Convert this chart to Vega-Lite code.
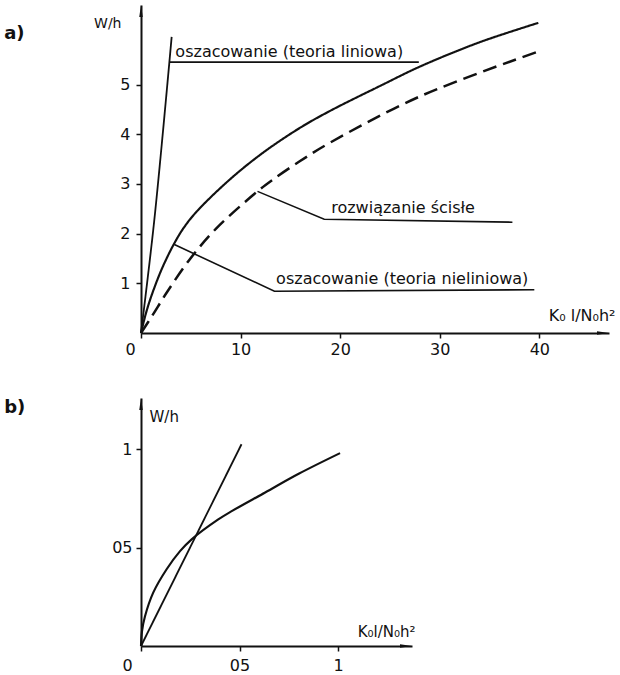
{
  "$schema": "https://vega.github.io/schema/vega-lite/v6.json",
  "background": "white",
  "padding": {"left": 4, "top": 5, "right": 0, "bottom": 0},
  "bounds": "flush",
  "spacing": 65,
  "datasets": {
    "a_curves": [
      {"series": "liniowa", "x": 0, "y": 0},
      {"series": "liniowa", "x": 1.34, "y": 2.28},
      {"series": "liniowa", "x": 3.08, "y": 5.96},
      {"series": "nieliniowa", "x": 0, "y": 0},
      {"series": "nieliniowa", "x": 0.5, "y": 0.4},
      {"series": "nieliniowa", "x": 1.0, "y": 0.72},
      {"series": "nieliniowa", "x": 1.84, "y": 1.17},
      {"series": "nieliniowa", "x": 2.5, "y": 1.47},
      {"series": "nieliniowa", "x": 3.28, "y": 1.78},
      {"series": "nieliniowa", "x": 4.2, "y": 2.09},
      {"series": "nieliniowa", "x": 5.53, "y": 2.43},
      {"series": "nieliniowa", "x": 8.87, "y": 3.08},
      {"series": "nieliniowa", "x": 12.2, "y": 3.62},
      {"series": "nieliniowa", "x": 15.9, "y": 4.12},
      {"series": "nieliniowa", "x": 18.9, "y": 4.46},
      {"series": "nieliniowa", "x": 24.3, "y": 5.0},
      {"series": "nieliniowa", "x": 28.0, "y": 5.36},
      {"series": "nieliniowa", "x": 34.0, "y": 5.85},
      {"series": "nieliniowa", "x": 39.9, "y": 6.24},
      {"series": "scisle", "x": 0, "y": 0},
      {"series": "scisle", "x": 1.1, "y": 0.34},
      {"series": "scisle", "x": 2.67, "y": 0.84},
      {"series": "scisle", "x": 4.85, "y": 1.47},
      {"series": "scisle", "x": 7.54, "y": 2.1},
      {"series": "scisle", "x": 11.7, "y": 2.85},
      {"series": "scisle", "x": 13.2, "y": 3.08},
      {"series": "scisle", "x": 15.9, "y": 3.45},
      {"series": "scisle", "x": 18.9, "y": 3.82},
      {"series": "scisle", "x": 28.0, "y": 4.76},
      {"series": "scisle", "x": 39.7, "y": 5.65}
    ],
    "a_leaders": [
      {"id": "l1", "x": 2.84, "y": 5.45},
      {"id": "l1", "x": 27.9, "y": 5.45},
      {"id": "l2", "x": 11.7, "y": 2.85},
      {"id": "l2", "x": 18.4, "y": 2.29},
      {"id": "l2", "x": 37.3, "y": 2.23},
      {"id": "l3", "x": 3.35, "y": 1.78},
      {"id": "l3", "x": 13.4, "y": 0.84},
      {"id": "l3", "x": 39.5, "y": 0.87}
    ],
    "a_text": [
      {"label": "oszacowanie (teoria liniowa)", "x": 3.45, "y": 5.56},
      {"label": "rozwiązanie ścisłe", "x": 19.1, "y": 2.41},
      {"label": "oszacowanie (teoria nieliniowa)", "x": 13.57, "y": 0.99}
    ],
    "a_tag": [{"label": "a)", "x": -13.74, "y": 6.02}],
    "a_arrows": [
      {"dir": "right", "x": 47, "y": 0},
      {"dir": "up", "x": 0, "y": 6.6}
    ],
    "b_curves": [
      {"series": "liniowa", "x": 0, "y": 0},
      {"series": "liniowa", "x": 0.51, "y": 1.025},
      {"series": "nieliniowa", "x": 0, "y": 0},
      {"series": "nieliniowa", "x": 0.005, "y": 0.075},
      {"series": "nieliniowa", "x": 0.02, "y": 0.15},
      {"series": "nieliniowa", "x": 0.062, "y": 0.271},
      {"series": "nieliniowa", "x": 0.13, "y": 0.39},
      {"series": "nieliniowa", "x": 0.198, "y": 0.482},
      {"series": "nieliniowa", "x": 0.257, "y": 0.542},
      {"series": "nieliniowa", "x": 0.392, "y": 0.643},
      {"series": "nieliniowa", "x": 0.46, "y": 0.685},
      {"series": "nieliniowa", "x": 0.63, "y": 0.78},
      {"series": "nieliniowa", "x": 0.8, "y": 0.875},
      {"series": "nieliniowa", "x": 1.01, "y": 0.98}
    ],
    "b_tag": [{"label": "b)", "x": -0.694, "y": 1.207}],
    "b_arrows": [
      {"dir": "right", "x": 1.375, "y": 0},
      {"dir": "up", "x": 0, "y": 1.26}
    ]
  },
  "vconcat": [
    {
      "width": 468,
      "height": 328,
      "encoding": {
        "x": {
          "field": "x", "type": "quantitative",
          "scale": {"domain": [0, 47], "nice": false, "zero": false},
          "axis": {
            "values": [0, 10, 20, 30, 40],
            "title": "K₀ l/N₀h²",
            "titleX": 474, "titleY": -18, "titleAlign": "right", "titleBaseline": "middle",
            "titleFontSize": 16,
            "tickSize": 5, "labelPadding": 3,
            "labelOffset": {"condition": {"test": "datum.value === 0", "value": -11}, "value": 0}
          }
        },
        "y": {
          "field": "y", "type": "quantitative",
          "scale": {"domain": [0, 6.6], "nice": false, "zero": false},
          "axis": {
            "values": [1, 2, 3, 4, 5],
            "title": "W/h",
            "titleAngle": 0, "titleX": -20, "titleY": 18, "titleAlign": "right", "titleBaseline": "middle",
            "titleFontSize": 14,
            "tickSize": 5, "labelPadding": 6
          }
        }
      },
      "layer": [
        {
          "data": {"name": "a_curves"},
          "mark": {"type": "line", "interpolate": "catmull-rom", "color": "#111", "clip": false},
          "encoding": {
            "detail": {"field": "series"},
            "strokeDash": {"field": "series", "type": "nominal", "legend": null,
              "scale": {"domain": ["liniowa", "nieliniowa", "scisle"], "range": [[1, 0], [1, 0], [14, 7]]}},
            "strokeWidth": {"field": "series", "type": "nominal", "legend": null,
              "scale": {"domain": ["liniowa", "nieliniowa", "scisle"], "range": [1.8, 2.5, 2.1]}}
          }
        },
        {
          "data": {"name": "a_leaders"},
          "mark": {"type": "line", "color": "#111", "strokeWidth": 1.6},
          "encoding": {"detail": {"field": "id"}}
        },
        {
          "data": {"name": "a_text"},
          "mark": {"type": "text", "align": "left", "baseline": "alphabetic", "font": "DejaVu Sans", "fontSize": 16, "color": "#111"},
          "encoding": {"text": {"field": "label"}}
        },
        {
          "data": {"name": "a_tag"},
          "mark": {"type": "text", "align": "left", "baseline": "middle", "font": "DejaVu Sans", "fontSize": 18, "fontWeight": "bold", "color": "#111"},
          "encoding": {"text": {"field": "label"}}
        },
        {
          "data": {"name": "a_arrows"},
          "mark": {"type": "point", "filled": true, "color": "#111", "opacity": 1, "size": 100, "clip": false},
          "encoding": {
            "shape": {"field": "dir", "type": "nominal", "legend": null,
              "scale": {"domain": ["right", "up"], "range": ["M0,0L-2.4,-0.35L-2.4,0.35Z", "M0,0L-0.35,2.4L0.35,2.4Z"]}}
          }
        }
      ]
    },
    {
      "width": 271,
      "height": 248,
      "encoding": {
        "x": {
          "field": "x", "type": "quantitative",
          "scale": {"domain": [0, 1.375], "nice": false, "zero": false},
          "axis": {
            "values": [0, 0.5, 1],
            "labelExpr": "datum.value == 0 ? '0' : datum.value == 0.5 ? '05' : '1'",
            "title": "K₀l/N₀h²",
            "titleX": 274, "titleY": -15, "titleAlign": "right", "titleBaseline": "middle",
            "titleFontSize": 15,
            "tickSize": 5, "labelPadding": 6,
            "labelOffset": {"condition": {"test": "datum.value === 0", "value": -14}, "value": 0}
          }
        },
        "y": {
          "field": "y", "type": "quantitative",
          "scale": {"domain": [0, 1.26], "nice": false, "zero": false},
          "axis": {
            "values": [0.5, 1],
            "labelExpr": "datum.value == 0.5 ? '05' : '1'",
            "title": "W/h",
            "titleAngle": 0, "titleX": 8, "titleY": 18, "titleAlign": "left", "titleBaseline": "middle",
            "titleFontSize": 15,
            "tickSize": 5, "labelPadding": 4
          }
        }
      },
      "layer": [
        {
          "data": {"name": "b_curves"},
          "mark": {"type": "line", "interpolate": "catmull-rom", "color": "#111", "clip": false},
          "encoding": {
            "detail": {"field": "series"},
            "strokeWidth": {"field": "series", "type": "nominal", "legend": null,
              "scale": {"domain": ["liniowa", "nieliniowa"], "range": [1.8, 2.5]}}
          }
        },
        {
          "data": {"name": "b_tag"},
          "mark": {"type": "text", "align": "left", "baseline": "middle", "font": "DejaVu Sans", "fontSize": 18, "fontWeight": "bold", "color": "#111"},
          "encoding": {"text": {"field": "label"}}
        },
        {
          "data": {"name": "b_arrows"},
          "mark": {"type": "point", "filled": true, "color": "#111", "opacity": 1, "size": 100, "clip": false},
          "encoding": {
            "shape": {"field": "dir", "type": "nominal", "legend": null,
              "scale": {"domain": ["right", "up"], "range": ["M0,0L-2.4,-0.35L-2.4,0.35Z", "M0,0L-0.35,2.4L0.35,2.4Z"]}}
          }
        }
      ]
    }
  ],
  "config": {
    "view": {"stroke": null},
    "axis": {
      "grid": false,
      "domainColor": "#111", "domainWidth": 2,
      "tickColor": "#111", "tickWidth": 1.5,
      "labelFont": "DejaVu Sans", "labelFontSize": 16, "labelColor": "#111",
      "labelFlush": false, "labelOverlap": false,
      "titleFont": "DejaVu Sans", "titleFontWeight": "normal", "titleColor": "#111"
    }
  }
}
